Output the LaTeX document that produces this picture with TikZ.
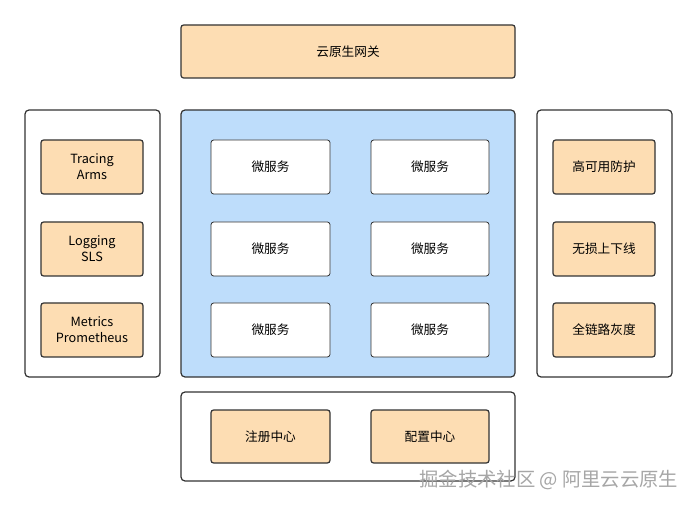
\documentclass[tikz,border=0pt]{standalone}
\usepackage{fontspec}
\setmainfont{Noto Sans CJK SC}
\usetikzlibrary{positioning}

\definecolor{peach}{HTML}{FDDDB3}
\definecolor{skyblue}{HTML}{BEDDFB}
\definecolor{edge}{HTML}{333333}

\tikzset{
  panel/.style={draw=edge, rounded corners=3pt, line width=0.9pt, fill=white},
  orangebox/.style={draw=edge, rounded corners=2pt, line width=0.9pt, fill=peach, align=center,
    font=\fontsize{9.5}{12}\selectfont},
  whitebox/.style={draw=edge, rounded corners=2pt, line width=0.6pt, fill=white,
    font=\fontsize{9.5}{11}\selectfont}
}

\begin{document}
\begin{tikzpicture}[x=0.75pt, y=-0.75pt]
				\useasboundingbox (0,0) rectangle (697,506);

				% Gateway on top
				\node[orangebox, minimum width=334*0.75pt, minimum height=53*0.75pt] (gateway) at (348,51.5) {云原生网关};

				% Three panels and the bottom one
				\draw[panel] (25,110) rectangle (160,377);
				\draw[panel, fill=skyblue] (181,110) rectangle (515,377);
				\draw[panel] (537,110) rectangle (672,377);
				\draw[panel] (181,392) rectangle (515,481);

				% Observability on the left
				\node[orangebox, minimum width=102*0.75pt, minimum height=54*0.75pt] (tracing) at (92,167) {Tracing\\Arms};
				\node[orangebox, minimum width=102*0.75pt, minimum height=54*0.75pt] (logging) at (92,249) {Logging\\SLS};
				\node[orangebox, minimum width=102*0.75pt, minimum height=54*0.75pt] (metrics) at (92,330) {Metrics\\Prometheus};

				% Microservices in the middle
				\foreach \r/\y in {1/167, 2/249, 3/330} {
					\node[whitebox, minimum width=119*0.75pt, minimum height=54*0.75pt] (svcL\r) at (270.5,\y) {微服务};
					\node[whitebox, minimum width=118*0.75pt, minimum height=54*0.75pt] (svcR\r) at (430,\y) {微服务};
				}

				% Governance on the right
				\node[orangebox, minimum width=102*0.75pt, minimum height=54*0.75pt] (protect) at (604,167) {高可用防护};
				\node[orangebox, minimum width=102*0.75pt, minimum height=54*0.75pt] (lossless) at (604,249) {无损上下线};
				\node[orangebox, minimum width=102*0.75pt, minimum height=54*0.75pt] (gray) at (604,330) {全链路灰度};

				% Registry and config at the bottom
				\node[orangebox, minimum width=119*0.75pt, minimum height=53*0.75pt] (registry) at (270.5,436.5) {注册中心};
				\node[orangebox, minimum width=118*0.75pt, minimum height=53*0.75pt] (config) at (430,436.5) {配置中心};

				% Watermark
				\node[text=gray!70, font=\fontsize{14.5}{16}\selectfont, anchor=east] (mark) at (683,480) {掘金技术社区 @ 阿里云云原生};
			\end{tikzpicture}
\end{document}
